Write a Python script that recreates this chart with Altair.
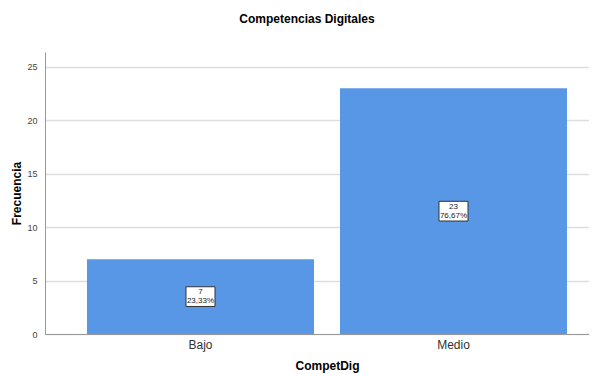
import altair as alt
import pandas as pd

categories = ["Bajo", "Medio"]
counts = [7, 23]
percents = ["23,33%", "76,67%"]

df = pd.DataFrame({
    "cat": categories,
    "n": counts,
    "pct": percents,
})
df["mid"] = df["n"] / 2

FONT = "Liberation Sans"

x = alt.X(
    "cat:N",
    sort=categories,
    scale=alt.Scale(paddingInner=0.1028, paddingOuter=0.1265, align=0.656),
    axis=alt.Axis(
        title="CompetDig",
        labelAngle=0,
        labelFontSize=12,
        labelColor="#333333",
        labelPadding=5,
        ticks=False,
        domainColor="#999999",
        titleFontSize=12,
        titleFontWeight="bold",
        titleColor="#000000",
        titleX=282,
        titleY=31,
        titleBaseline="middle",
    ),
)

bars = alt.Chart(df).mark_bar(color="#5896E6").encode(
    x=x,
    y=alt.Y(
        "n:Q",
        scale=alt.Scale(domain=[0, 26.4], nice=False),
        axis=alt.Axis(
            title="Frecuencia",
            values=[0, 5, 10, 15, 20, 25],
            labelFontSize=9,
            labelColor="#444444",
            labelPadding=8,
            ticks=False,
            domainColor="#999999",
            gridColor="#dddddd",
            gridWidth=1.5,
            titleFontSize=12,
            titleFontWeight="bold",
            titleColor="#000000",
            titleX=-29,
            titleY=141,
            titleAngle=270,
            titleAlign="center",
            titleBaseline="middle",
        ),
    ),
)

boxes = alt.Chart(df).mark_point(
    shape="M-1,-0.68L1,-0.68L1,0.68L-1,0.68Z",
    size=841,
    filled=True,
    fill="white",
    stroke="#333333",
    strokeWidth=1,
    opacity=1,
).encode(x=alt.X("cat:N", sort=categories), y="mid:Q")

text_top = alt.Chart(df).mark_text(
    fontSize=8, color="#222222", font=FONT, baseline="middle", dy=-4.5
).encode(x=alt.X("cat:N", sort=categories), y="mid:Q", text="n:Q")

text_bot = alt.Chart(df).mark_text(
    fontSize=8, color="#222222", font=FONT, baseline="middle", dy=4.5
).encode(x=alt.X("cat:N", sort=categories), y="mid:Q", text="pct:N")

chart = alt.layer(bars, boxes, text_top, text_bot).properties(
    width=544,
    height=282,
    padding={"left": 37, "top": 44, "right": 0, "bottom": 40},
    autosize=alt.AutoSizeParams(type="none"),
    title=alt.TitleParams(
        "Competencias Digitales",
        fontSize=12,
        fontWeight="bold",
        color="#000000",
        font=FONT,
        dx=-10,
        offset=26,
    ),
).configure(font=FONT).configure_view(stroke=None)

chart.save("out.html", embed_options={"renderer": "svg", "actions": False})
